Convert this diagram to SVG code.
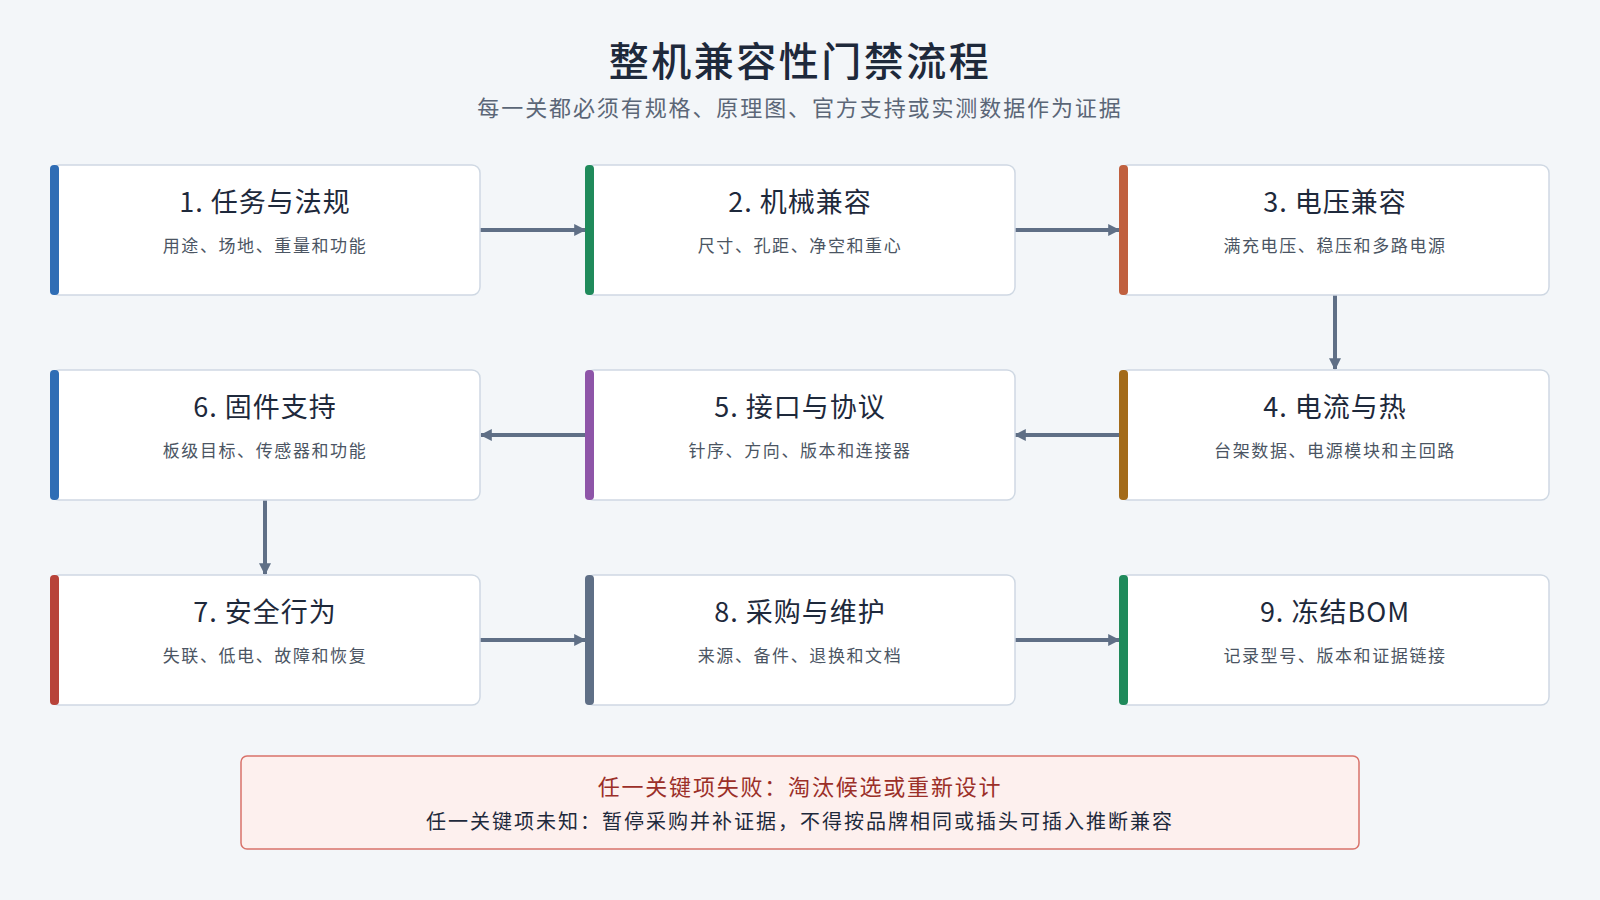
<svg xmlns="http://www.w3.org/2000/svg" width="1600" height="900" viewBox="0 0 1600 900">
<defs>
<style>
text{font-family:"Noto Sans CJK SC","Noto Sans",sans-serif;text-anchor:middle}
.box{fill:#fff;stroke:#cfd8e3;stroke-width:1.5}
.t{font-size:27px;fill:#1e293b;letter-spacing:1px}
.s{font-size:17px;fill:#4b5563;letter-spacing:1.6px}
.c{stroke:#5f6f86;stroke-width:4;fill:none;marker-end:url(#a)}
</style>
<marker id="a" viewBox="0 0 10 10" refX="9" refY="5" markerWidth="3" markerHeight="3" orient="auto"><path d="M0,0L10,5L0,10z" fill="#5f6f86"/></marker>
</defs>
<rect width="1600" height="900" fill="#f3f6f9"/>
<text x="800" y="76" font-size="40" font-weight="500" fill="#1e293b" letter-spacing="2.5">整机兼容性门禁流程</text>
<text x="800" y="116" font-size="22" fill="#5b6677" letter-spacing="1.9">每一关都必须有规格、原理图、官方支持或实测数据作为证据</text>
<g id="connectors">
<path class="c" d="M480 230H585"/>
<path class="c" d="M1014 230H1119"/>
<path class="c" d="M1335 295V369"/>
<path class="c" d="M1120 435H1015"/>
<path class="c" d="M586 435H481"/>
<path class="c" d="M265 500V574"/>
<path class="c" d="M480 640H585"/>
<path class="c" d="M1014 640H1119"/>
</g>
<g id="n1"><rect class="box" x="51" y="165" width="429" height="130" rx="8"/><rect x="50" y="165" width="9" height="130" rx="4" fill="#2f6db5"/><text class="t" x="265" y="212">1. 任务与法规</text><text class="s" x="265" y="252">用途、场地、重量和功能</text></g>
<g id="n2"><rect class="box" x="586" y="165" width="429" height="130" rx="8"/><rect x="585" y="165" width="9" height="130" rx="4" fill="#1f8a5b"/><text class="t" x="800" y="212">2. 机械兼容</text><text class="s" x="800" y="252">尺寸、孔距、净空和重心</text></g>
<g id="n3"><rect class="box" x="1120" y="165" width="429" height="130" rx="8"/><rect x="1119" y="165" width="9" height="130" rx="4" fill="#c0603f"/><text class="t" x="1335" y="212">3. 电压兼容</text><text class="s" x="1335" y="252">满充电压、稳压和多路电源</text></g>
<g id="n4"><rect class="box" x="1120" y="370" width="429" height="130" rx="8"/><rect x="1119" y="370" width="9" height="130" rx="4" fill="#a36b1a"/><text class="t" x="1335" y="417">4. 电流与热</text><text class="s" x="1335" y="457">台架数据、电源模块和主回路</text></g>
<g id="n5"><rect class="box" x="586" y="370" width="429" height="130" rx="8"/><rect x="585" y="370" width="9" height="130" rx="4" fill="#8e55a8"/><text class="t" x="800" y="417">5. 接口与协议</text><text class="s" x="800" y="457">针序、方向、版本和连接器</text></g>
<g id="n6"><rect class="box" x="51" y="370" width="429" height="130" rx="8"/><rect x="50" y="370" width="9" height="130" rx="4" fill="#2f6db5"/><text class="t" x="265" y="417">6. 固件支持</text><text class="s" x="265" y="457">板级目标、传感器和功能</text></g>
<g id="n7"><rect class="box" x="51" y="575" width="429" height="130" rx="8"/><rect x="50" y="575" width="9" height="130" rx="4" fill="#b8433a"/><text class="t" x="265" y="622">7. 安全行为</text><text class="s" x="265" y="662">失联、低电、故障和恢复</text></g>
<g id="n8"><rect class="box" x="586" y="575" width="429" height="130" rx="8"/><rect x="585" y="575" width="9" height="130" rx="4" fill="#5f6f86"/><text class="t" x="800" y="622">8. 采购与维护</text><text class="s" x="800" y="662">来源、备件、退换和文档</text></g>
<g id="n9"><rect class="box" x="1120" y="575" width="429" height="130" rx="8"/><rect x="1119" y="575" width="9" height="130" rx="4" fill="#1f8a5b"/><text class="t" x="1335" y="622">9. 冻结BOM</text><text class="s" x="1335" y="662">记录型号、版本和证据链接</text></g>
<g id="note"><rect x="241" y="756" width="1118" height="93" rx="6" fill="#fdf0ee" stroke="#d9726a" stroke-width="1.5"/><text x="800" y="795" font-size="22" fill="#9b2f28" letter-spacing="1.8">任一关键项失败：淘汰候选或重新设计</text><text x="800" y="829" font-size="20" fill="#1e293b" letter-spacing="2">任一关键项未知：暂停采购并补证据，不得按品牌相同或插头可插入推断兼容</text></g>
</svg>
